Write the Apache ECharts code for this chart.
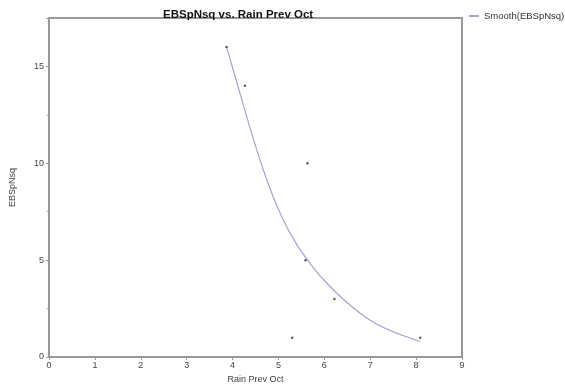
<!DOCTYPE html>
<html>
<head>
<meta charset="utf-8">
<script src="https://cdn.jsdelivr.net/npm/echarts@6/dist/echarts.min.js"></script>
<style>
  html, body { margin: 0; padding: 0; background: #fff; }
  #chart { width: 565px; height: 389px; }
</style>
</head>
<body>
<div id="chart"></div>
<script>
// observed points (Rain Prev Oct, EBSpNsq)
var rainPrevOct = [3.87, 4.27, 5.63, 5.59, 6.22, 5.30, 8.09];
var ebspnsq = [16, 14, 10, 5, 3, 1, 1];

// smoothed curve
var smoothX = [3.87, 4.2, 4.5, 4.8, 5.1, 5.4, 5.7, 6.0, 6.5, 7.0, 7.5, 8.09];
var smoothY = [16, 13.3, 10.9, 8.8, 7.1, 5.8, 4.8, 3.95, 2.8, 1.9, 1.3, 0.8];

var xTicks = [0, 1, 2, 3, 4, 5, 6, 7, 8, 9];
var yTicks = [0, 5, 10, 15];

var points = rainPrevOct.map(function (x, i) { return [x, ebspnsq[i]]; });
var curve = smoothX.map(function (x, i) { return [x, smoothY[i]]; });

var chart = echarts.init(document.getElementById('chart'));
var axisColor = '#999';
var labelColor = '#444';
var curveColor = '#a3a3d9';
var font = 'Liberation Sans, Arial, sans-serif';

var option = {
  backgroundColor: '#fff',
  animation: false,
  textStyle: { fontFamily: font },
  title: {
    text: 'EBSpNsq vs. Rain Prev Oct',
    left: 158,
    top: 4,
    textStyle: { fontSize: 11.5, fontWeight: 'bold', color: '#111', fontFamily: font }
  },
  legend: {
    data: ['Smooth(EBSpNsq)'],
    left: 463,
    top: 6,
    itemWidth: 10,
    itemHeight: 2,
    textStyle: { fontSize: 9.5, color: '#333', fontFamily: font }
  },
  grid: {
    left: 47, right: 103, top: 18, bottom: 32,
    show: true, borderColor: axisColor, borderWidth: 2, backgroundColor: '#fff'
  },
  xAxis: {
    type: 'value',
    min: xTicks[0], max: xTicks[xTicks.length - 1], interval: 1,
    name: 'Rain Prev Oct',
    nameLocation: 'middle', nameGap: 16,
    nameTextStyle: { fontSize: 9, color: labelColor },
    axisLine: { show: true, onZero: false, lineStyle: { color: axisColor, width: 2 } },
    axisTick: { show: true, length: 3, lineStyle: { color: axisColor } },
    axisLabel: { fontSize: 9, color: labelColor, margin: 4 },
    splitLine: { show: false }
  },
  yAxis: {
    type: 'value',
    min: yTicks[0], max: 17.5, interval: 5,
    name: 'EBSpNsq',
    nameLocation: 'middle', nameGap: 32,
    nameTextStyle: { fontSize: 9, color: labelColor },
    axisLine: { show: true, onZero: false, lineStyle: { color: axisColor, width: 2 } },
    axisTick: { show: true, length: 3, lineStyle: { color: axisColor } },
    minorTick: { show: true, splitNumber: 2, length: 2, lineStyle: { color: axisColor } },
    axisLabel: {
      fontSize: 9, color: labelColor, margin: 5, showMaxLabel: false,
      formatter: function (v) { return yTicks.indexOf(v) >= 0 ? String(v) : ''; }
    },
    splitLine: { show: false }
  },
  series: [
    {
      name: 'Smooth(EBSpNsq)',
      type: 'line',
      data: curve,
      smooth: 0.3,
      showSymbol: false,
      symbol: 'none',
      lineStyle: { color: curveColor, width: 1.2 },
      itemStyle: { color: curveColor },
      z: 2
    },
    {
      name: 'EBSpNsq',
      type: 'scatter',
      data: points,
      symbol: 'circle',
      symbolSize: 2.5,
      itemStyle: { color: '#333' },
      z: 3
    }
  ]
};

chart.setOption(option);
</script>
</body>
</html>
